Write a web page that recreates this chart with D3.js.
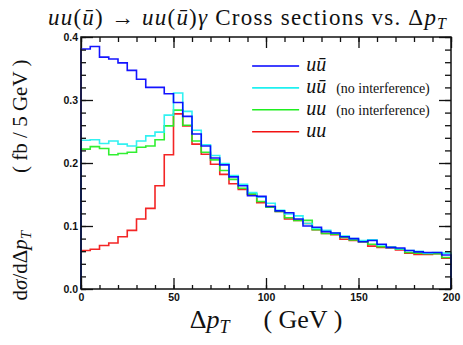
<!DOCTYPE html>
<html>
<head>
<meta charset="utf-8">
<script src="https://cdn.jsdelivr.net/npm/d3@7"></script>
<style>
  body { margin: 0; background: #fff; }
  .tick text { font-family: "Liberation Sans", Arial, sans-serif; font-weight: bold; font-size: 10.5px; fill: #111; }
</style>
</head>
<body>
<svg id="chart" width="463" height="345"></svg>
<script>
// bin width 5 GeV, 40 bins from 0 to 200
var binWidth = 5;
var xTicks = [0, 50, 100, 150, 200];
var yTicks = [0.0, 0.1, 0.2, 0.3, 0.4];

// u ubar
var uubar = [0.381, 0.385, 0.368, 0.365, 0.359, 0.347, 0.333, 0.320, 0.320, 0.310,
             0.296, 0.274, 0.246, 0.227, 0.208, 0.197, 0.178, 0.164, 0.148, 0.147,
             0.131, 0.124, 0.121, 0.111, 0.100, 0.098, 0.091, 0.089, 0.083, 0.080,
             0.075, 0.077, 0.071, 0.066, 0.065, 0.061, 0.059, 0.058, 0.058, 0.054];
// u ubar, no interference
var uubarNoInt = [0.236, 0.237, 0.231, 0.235, 0.230, 0.227, 0.235, 0.243, 0.249, 0.276,
                  0.311, 0.282, 0.252, 0.229, 0.212, 0.199, 0.180, 0.166, 0.153, 0.146,
                  0.136, 0.125, 0.119, 0.116, 0.104, 0.096, 0.093, 0.089, 0.084, 0.080,
                  0.077, 0.078, 0.070, 0.066, 0.064, 0.061, 0.060, 0.057, 0.058, 0.057];
// u u, no interference
var uuNoInt = [0.222, 0.226, 0.223, 0.213, 0.215, 0.217, 0.225, 0.227, 0.237, 0.259,
               0.284, 0.260, 0.235, 0.217, 0.205, 0.188, 0.174, 0.160, 0.151, 0.139,
               0.130, 0.123, 0.113, 0.109, 0.109, 0.094, 0.088, 0.087, 0.082, 0.078,
               0.075, 0.071, 0.067, 0.066, 0.063, 0.058, 0.057, 0.056, 0.056, 0.050];
// u u
var uu = [0.061, 0.063, 0.069, 0.073, 0.083, 0.093, 0.111, 0.128, 0.164, 0.213,
          0.278, 0.259, 0.230, 0.214, 0.198, 0.182, 0.167, 0.158, 0.150, 0.137,
          0.131, 0.123, 0.111, 0.109, 0.104, 0.094, 0.088, 0.086, 0.079, 0.077,
          0.075, 0.068, 0.066, 0.065, 0.062, 0.057, 0.055, 0.055, 0.056, 0.049];

var legendLabels = ["u\u016B", "u\u016B", "uu", "uu"];
var legendNotes = ["", "(no interference)", "(no interference)", ""];
var colors = ["#0000ff", "#1ff0f0", "#1fee1f", "#f21212"];

var series = [uubar, uubarNoInt, uuNoInt, uu].map(function(v, i) {
  return { values: v, color: colors[i], label: legendLabels[i], note: legendNotes[i] };
});

var serif = "'Liberation Serif', 'Times New Roman', 'DejaVu Serif', serif";

var svg = d3.select("#chart");
var margin = { left: 81, top: 37, right: 12, bottom: 56 };
var width = 463 - margin.left - margin.right,
    height = 345 - margin.top - margin.bottom;

var x = d3.scaleLinear().domain([0, 200]).range([0, width]);
var y = d3.scaleLinear().domain([0, 0.4]).range([height, 0]);

var g = svg.append("g").attr("transform", "translate(" + margin.left + "," + margin.top + ")");

// histograms, drawn as closed steps from 0 to 0
var line = d3.line()
  .x(function(d) { return x(d[0]); })
  .y(function(d) { return y(d[1]); })
  .curve(d3.curveStepAfter);

function stepPoints(vals) {
  var pts = [[0, 0]];
  vals.forEach(function(v, i) { pts.push([i * binWidth, v]); });
  pts.push([vals.length * binWidth, vals[vals.length - 1]]);
  pts.push([vals.length * binWidth, 0]);
  return pts;
}

var drawOrder = [3, 2, 1, 0];
g.selectAll("path.hist")
  .data(drawOrder.map(function(i) { return series[i]; }))
  .enter().append("path")
  .attr("class", "hist")
  .attr("d", function(d) { return line(stepPoints(d.values)); })
  .attr("fill", "none")
  .attr("stroke", function(d) { return d.color; })
  .attr("stroke-width", 1.6)
  .attr("stroke-opacity", 0.92);

// axes: minor and major ticks on all four sides, pointing inwards
function styleAxis(sel) {
  sel.select(".domain").remove();
  sel.selectAll(".tick line").attr("stroke", "#111").attr("stroke-width", 1.3);
}

g.append("g").attr("transform", "translate(0," + height + ")")
  .call(d3.axisBottom(x).tickValues(d3.range(0, 201, 10)).tickSize(-4).tickFormat(""))
  .call(styleAxis);
g.append("g").attr("transform", "translate(0," + height + ")")
  .call(d3.axisBottom(x).tickValues(xTicks).tickSize(-11).tickPadding(5).tickFormat(d3.format("d")))
  .call(styleAxis);
g.append("g")
  .call(d3.axisTop(x).tickValues(d3.range(0, 201, 10)).tickSize(-5).tickFormat(""))
  .call(styleAxis);
g.append("g")
  .call(d3.axisTop(x).tickValues(xTicks).tickSize(-11).tickFormat(""))
  .call(styleAxis);

g.append("g")
  .call(d3.axisLeft(y).tickValues(d3.range(0, 0.401, 0.02)).tickSize(-5).tickFormat(""))
  .call(styleAxis);
g.append("g")
  .call(d3.axisLeft(y).tickValues(yTicks).tickSize(-12).tickPadding(3).tickFormat(d3.format(".1f")))
  .call(styleAxis);
g.append("g").attr("transform", "translate(" + width + ",0)")
  .call(d3.axisRight(y).tickValues(d3.range(0, 0.401, 0.02)).tickSize(-6).tickFormat(""))
  .call(styleAxis);
g.append("g").attr("transform", "translate(" + width + ",0)")
  .call(d3.axisRight(y).tickValues(yTicks).tickSize(-12).tickFormat(""))
  .call(styleAxis);

g.append("rect")
  .attr("width", width).attr("height", height)
  .attr("fill", "none").attr("stroke", "#111").attr("stroke-width", 1.5);

// legend
var legend = g.append("g").attr("transform", "translate(" + (x(92.5)) + ",0)");
var rows = legend.selectAll("g").data(series).enter().append("g")
  .attr("transform", function(d, i) { return "translate(0," + (29 + i * 21.9) + ")"; });
rows.append("line").attr("x1", 0).attr("x2", 47)
  .attr("stroke", function(d) { return d.color; }).attr("stroke-width", 1.6);
var lt = rows.append("text").attr("font-family", serif).attr("fill", "#111").attr("x", 54).attr("y", 5);
lt.append("tspan").attr("font-style", "italic").attr("font-size", 20).text(function(d) { return d.label; });
lt.append("tspan").attr("font-size", 14).attr("dx", 10).text(function(d) { return d.note; });

// title
var title = svg.append("text").attr("font-family", serif).attr("fill", "#111")
  .attr("x", 48).attr("y", 25).attr("font-size", 23)
  .attr("textLength", 398).attr("lengthAdjust", "spacing");
title.append("tspan").attr("font-style", "italic").text("uu");
title.append("tspan").text("(");
title.append("tspan").attr("font-style", "italic").text("\u016B");
title.append("tspan").text(") \u2192 ");
title.append("tspan").attr("font-style", "italic").text("uu");
title.append("tspan").text("(");
title.append("tspan").attr("font-style", "italic").text("\u016B");
title.append("tspan").text(")");
title.append("tspan").attr("font-style", "italic").text("\u03B3");
title.append("tspan").text(" Cross sections vs.  \u0394");
title.append("tspan").attr("font-style", "italic").text("p");
title.append("tspan").attr("font-style", "italic").attr("font-size", 16).attr("dy", 4).text("T");

// x label
var xl = svg.append("text").attr("font-family", serif).attr("fill", "#111")
  .attr("x", 266).attr("y", 328).attr("text-anchor", "middle").attr("font-size", 26);
xl.append("tspan").text("\u0394");
xl.append("tspan").attr("font-style", "italic").text("p");
xl.append("tspan").attr("font-style", "italic").attr("font-size", 18).attr("dy", 5).text("T");
xl.append("tspan").attr("dy", -5).attr("dx", 34).text("( GeV )");

// y label
var yl = svg.append("text").attr("font-family", serif).attr("fill", "#111")
  .attr("transform", "translate(27,180) rotate(-90)")
  .attr("text-anchor", "middle").attr("font-size", 21);
yl.append("tspan").text("d");
yl.append("tspan").attr("font-style", "italic").text("\u03C3");
yl.append("tspan").text("/d\u0394");
yl.append("tspan").attr("font-style", "italic").text("p");
yl.append("tspan").attr("font-style", "italic").attr("font-size", 15).attr("dy", 4).text("T");
yl.append("tspan").attr("dy", -4).attr("dx", 58).text("( fb / 5 GeV )");
</script>
</body>
</html>
